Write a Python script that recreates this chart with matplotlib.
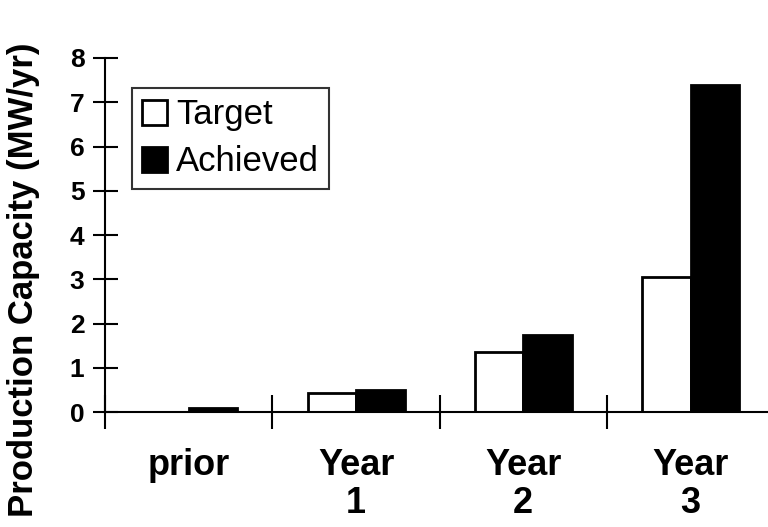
import numpy as np
import matplotlib
matplotlib.use("Agg")
import matplotlib.pyplot as plt

plt.rcParams['font.family'] = ['Liberation Sans', 'DejaVu Sans']

categories = ["prior", "Year\n1", "Year\n2", "Year\n3"]
target = [0.0, 0.43, 1.35, 3.05]
achieved = [0.09, 0.5, 1.75, 7.4]

fig = plt.figure(figsize=(7.68, 5.27), dpi=100)
ax = fig.add_axes([0.137, 0.218, 0.871, 0.672])

x = np.arange(len(categories))
w = 0.29
ax.bar(x - w / 2, target, w, color="white", edgecolor="black", linewidth=2, label="Target")
ax.bar(x + w / 2, achieved, w, color="black", edgecolor="black", linewidth=2, label="Achieved")

ax.set_xlim(-0.5, len(categories) - 0.5)
ax.set_ylim(0, 8)
ax.set_yticks(range(0, 9))
ax.tick_params(axis="y", direction="inout", length=18, width=1.5, labelsize=19, pad=6)
for lab in ax.get_yticklabels():
    lab.set_fontweight("bold")

# category boundaries carry the ticks, centres carry the labels
ax.set_xticks(np.arange(-0.5, len(categories) - 0.5, 1.0))
ax.set_xticklabels([])
ax.set_xticks(x, minor=True)
ax.set_xticklabels(categories, minor=True, fontsize=26, fontweight="bold", linespacing=1.12)
ax.tick_params(axis="x", which="major", direction="inout", length=25, width=1.5)
ax.tick_params(axis="x", which="minor", length=0, pad=26)

ax.spines["top"].set_visible(False)
ax.spines["right"].set_visible(False)
ax.spines["left"].set_linewidth(1.5)
ax.spines["bottom"].set_linewidth(1.5)

leg = ax.legend(loc="upper left", bbox_to_anchor=(0.04, 0.915), fontsize=25,
                frameon=True, fancybox=False, edgecolor="black",
                handlelength=0.72, handleheight=0.72, handletextpad=0.25,
                borderpad=0.3, labelspacing=0.4, borderaxespad=0)
leg.get_frame().set_linewidth(1.5)

fig.text(0.031, 0.469, "Production Capacity (MW/yr)", rotation=90, fontsize=25,
         fontweight="bold", ha="center", va="center")

fig.savefig("out.png", dpi=100)
